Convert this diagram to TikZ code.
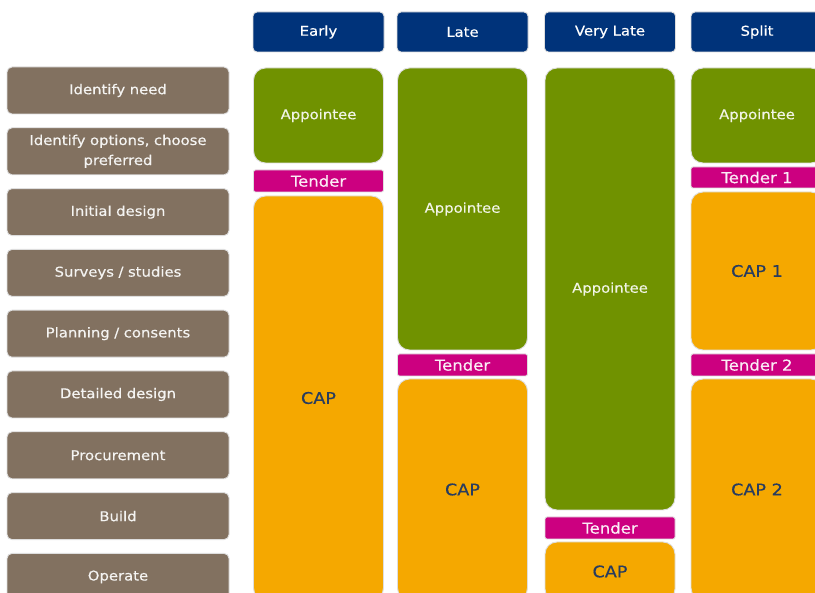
\documentclass[tikz,border=0pt]{standalone}
\usepackage{fontspec}
\setmainfont[FakeStretch=1.1,FakeBold=0.4]{DejaVu Sans}
\usepackage{tikz}

\definecolor{hdrblue}{RGB}{0,51,122}
\definecolor{stagebrown}{RGB}{130,113,96}
\definecolor{apptgreen}{RGB}{112,146,0}
\definecolor{tendpink}{RGB}{204,0,128}
\definecolor{caporange}{RGB}{245,168,0}
\definecolor{captext}{RGB}{40,60,95}

\tikzset{
    box/.style={draw=black!13, line width=0.9pt, inner sep=0pt, align=center},
    stage/.style={box, fill=stagebrown, text=white!92!stagebrown, rounded corners=5pt,
        minimum width=222pt, minimum height=47pt, text width=210pt,
        font=\fontsize{13.5}{20}\selectfont},
    phase/.style={box, fill=hdrblue, text=white, rounded corners=4pt,
        minimum width=131pt, minimum height=40pt, font=\fontsize{13.5}{15}\selectfont},
    appt/.style={box, fill=apptgreen, text=white!90!apptgreen, rounded corners=12pt,
        minimum width=130pt, font=\fontsize{13.5}{15}\selectfont},
    tender/.style={box, fill=tendpink, text=white!92!tendpink, rounded corners=2pt,
        minimum width=130pt, minimum height=22pt, font=\fontsize{15}{15}\selectfont},
    capbox/.style={box, fill=caporange, text=captext, rounded corners=12pt,
        minimum width=130pt, font=\fontsize{16}{16}\selectfont}
}

\begin{document}
\begin{tikzpicture}[x=1pt, y=-1pt]
    \useasboundingbox (0,0) rectangle (815,593);
    \clip (0,0) rectangle (815,593);

    % stages
    \node[stage] (need) at (118, 90.5) {Identify need};
    \node[stage] (options) at (118, 151.3) {Identify options, choose\\preferred};
    \node[stage] (initial) at (118, 212.1) {Initial design};
    \node[stage] (surveys) at (118, 272.9) {Surveys / studies};
    \node[stage] (planning) at (118, 333.7) {Planning / consents};
    \node[stage] (detailed) at (118, 394.5) {Detailed design};
    \node[stage] (procure) at (118, 455.3) {Procurement};
    \node[stage] (build) at (118, 516.1) {Build};
    \node[stage] (operate) at (118, 576.9) {Operate};

    % headers
    \node[phase] (early) at (318.5, 32) {Early};
    \node[phase] (late) at (462.5, 32) {Late};
    \node[phase] (vlate) at (610, 32) {Very Late};
    \node[phase, minimum width=132pt] (split) at (757, 32) {Split};

    % early
    \node[appt, minimum height=95pt] (early-appt) at (318.5, 115.5) {Appointee};
    \node[tender] (early-tender) at (318.5, 181) {Tender};
    \node[capbox, minimum height=404pt] (early-cap) at (318.5, 398) {CAP};

    % late
    \node[appt, minimum height=282pt] (late-appt) at (462.5, 209) {Appointee};
    \node[tender] (late-tender) at (462.5, 365) {Tender};
    \node[capbox, minimum height=221pt] (late-cap) at (462.5, 489.5) {CAP};

    % very late
    \node[appt, minimum height=442pt] (vlate-appt) at (610, 289) {Appointee};
    \node[tender] (vlate-tender) at (610, 528) {Tender};
    \node[capbox, minimum height=59pt] (vlate-cap) at (610, 571.5) {CAP};

    % split
    \node[appt, minimum width=132pt, minimum height=95pt] (split-appt) at (757, 115.5) {Appointee};
    \node[tender, minimum width=132pt, minimum height=21pt] (split-tender1) at (757, 177.5) {Tender 1};
    \node[capbox, minimum width=132pt, minimum height=158pt] (split-cap1) at (757, 271) {CAP 1};
    \node[tender, minimum width=132pt] (split-tender2) at (757, 365) {Tender 2};
    \node[capbox, minimum width=132pt, minimum height=221pt] (split-cap2) at (757, 489.5) {CAP 2};
\end{tikzpicture}
\end{document}
